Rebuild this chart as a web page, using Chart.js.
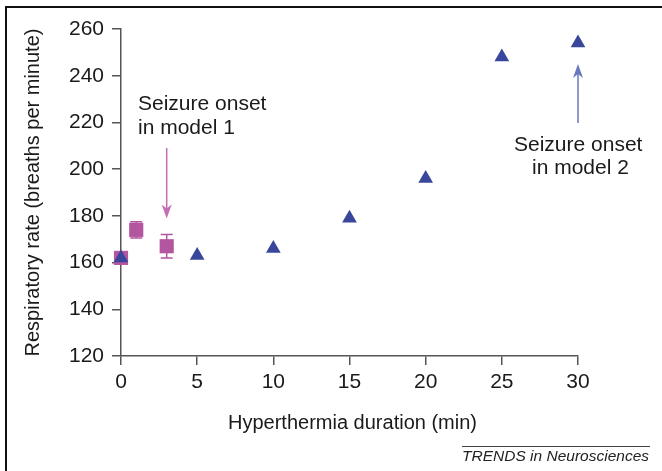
<!DOCTYPE html>
<html>
<head>
<meta charset="utf-8">
<script src="https://cdn.jsdelivr.net/npm/chart.js@4/dist/chart.umd.min.js"></script>
<style>
  html, body { margin: 0; padding: 0; background: #ffffff; }
  #wrap { width: 662px; height: 471px; position: relative; }
</style>
</head>
<body>
<div id="wrap"><canvas id="c" width="662" height="471"></canvas></div>
<script>
// ---- data ----
const model2X = [0, 5, 10, 15, 20, 25, 30];
const model2Rate = [162, 163, 166, 179, 196, 248, 254];
const model1X = [0, 1, 3];
const model1Rate = [162, 174, 167];
const model1Err = [0, 3.5, 5];
const xTicks = [0, 5, 10, 15, 20, 25, 30];
const yTicks = [120, 140, 160, 180, 200, 220, 240, 260];
const xTitle = 'Hyperthermia duration (min)';
const yTitle = 'Respiratory rate (breaths per minute)';
const note1 = ['Seizure onset', 'in model 1'];
const note2 = ['Seizure onset', 'in model 2'];
const note1X = 3, note2X = 30;
const credit = 'TRENDS in Neurosciences';

const FONT = '"Liberation Sans", Arial, Helvetica, sans-serif';
const BLUE = '#38479b';
const MAG = '#b3559f';
const AXIS = '#555555';

function pts(xs, ys) { return xs.map((x, i) => ({ x: x, y: ys[i] })); }

function arrow(ctx, x, y0, y1, color) {
  ctx.save();
  ctx.strokeStyle = color; ctx.fillStyle = color; ctx.lineWidth = 1.5;
  const dir = y1 > y0 ? 1 : -1;
  ctx.beginPath(); ctx.moveTo(x, y0); ctx.lineTo(x, y1 - dir * 8); ctx.stroke();
  ctx.beginPath();
  ctx.moveTo(x, y1);
  ctx.lineTo(x - 5, y1 - dir * 14);
  ctx.lineTo(x, y1 - dir * 10);
  ctx.lineTo(x + 5, y1 - dir * 14);
  ctx.closePath(); ctx.fill();
  ctx.restore();
}

const decor = {
  id: 'decor',
  beforeDraw(chart) {
    const ctx = chart.ctx;
    ctx.save();
    ctx.fillStyle = '#ffffff';
    ctx.fillRect(0, 0, chart.width, chart.height);
    ctx.strokeStyle = '#111111'; ctx.lineWidth = 2;
    ctx.beginPath(); ctx.moveTo(6, chart.height); ctx.lineTo(6, 7); ctx.lineTo(chart.width, 7); ctx.stroke();
    ctx.restore();
  },
  beforeDatasetsDraw(chart) {
    const ctx = chart.ctx, xs = chart.scales.x, ys = chart.scales.y;
    ctx.save();
    ctx.strokeStyle = MAG; ctx.lineWidth = 1.5;
    model1X.forEach((x, i) => {
      const e = model1Err[i];
      if (!e) return;
      const px = xs.getPixelForValue(x);
      const top = ys.getPixelForValue(model1Rate[i] + e);
      const bot = ys.getPixelForValue(model1Rate[i] - e);
      ctx.beginPath();
      ctx.moveTo(px, top); ctx.lineTo(px, bot);
      ctx.moveTo(px - 6, top); ctx.lineTo(px + 6, top);
      ctx.moveTo(px - 6, bot); ctx.lineTo(px + 6, bot);
      ctx.stroke();
    });
    ctx.restore();
  },
  afterDraw(chart) {
    const ctx = chart.ctx, xs = chart.scales.x, ys = chart.scales.y, a = chart.chartArea;
    ctx.save();
    ctx.fillStyle = '#1a1a1a';
    ctx.font = '20px ' + FONT;
    ctx.textAlign = 'center'; ctx.textBaseline = 'middle';
    // axis titles
    ctx.fillText(xTitle, (a.left + a.right) / 2 + 3, 423);
    ctx.save();
    ctx.translate(33, (a.top + a.bottom) / 2);
    ctx.rotate(-Math.PI / 2);
    ctx.fillText(yTitle, 0, 0);
    ctx.restore();
    // annotation 1
    ctx.font = '21px ' + FONT;
    const p1 = xs.getPixelForValue(note1X);
    ctx.textAlign = 'left';
    ctx.fillText(note1[0], 138, 104);
    ctx.fillText(note1[1], 138, 128);
    arrow(ctx, p1, 148, ys.getPixelForValue(model1Rate[2] + model1Err[2]) - 16, '#c36db4');
    // annotation 2
    const p2 = xs.getPixelForValue(note2X);
    ctx.fillText(note2[0], 514, 145);
    ctx.fillText(note2[1], 532, 168);
    arrow(ctx, p2, 123, ys.getPixelForValue(model2Rate[6]) + 21, '#6877c0');
    // credit
    ctx.font = 'italic 15.5px ' + FONT;
    ctx.textAlign = 'right'; ctx.textBaseline = 'alphabetic';
    ctx.fillStyle = '#222222';
    ctx.fillText(credit, 649, 461);
    ctx.strokeStyle = '#444444'; ctx.lineWidth = 1;
    ctx.beginPath(); ctx.moveTo(462, 446.5); ctx.lineTo(650, 446.5); ctx.stroke();
    ctx.restore();
  }
};

new Chart(document.getElementById('c'), {
  type: 'scatter',
  data: {
    datasets: [
      {
        label: 'Model 2',
        data: pts(model2X, model2Rate),
        pointStyle: 'triangle',
        pointRadius: 8.5,
        pointHoverRadius: 8.5,
        backgroundColor: BLUE,
        borderColor: BLUE,
        borderWidth: 0,
        clip: false
      },
      {
        label: 'Model 1',
        data: pts(model1X, model1Rate),
        pointStyle: 'rect',
        pointRadius: 10,
        pointHoverRadius: 10,
        backgroundColor: MAG,
        borderColor: MAG,
        borderWidth: 0,
        clip: false
      }
    ]
  },
  options: {
    responsive: false,
    animation: false,
    events: [],
    layout: { padding: { left: 0, right: 84, top: 29, bottom: 0 } },
    plugins: { legend: { display: false }, tooltip: { enabled: false } },
    scales: {
      x: {
        type: 'linear', min: 0, max: 30,
        afterBuildTicks(s) { s.ticks = xTicks.map(v => ({ value: v })); },
        afterFit(s) { s.height = 115; },
        border: { display: true, color: AXIS, width: 1.5 },
        grid: { display: true, drawOnChartArea: false, drawTicks: true, tickLength: 9, color: AXIS, lineWidth: 1.5 },
        ticks: { color: '#1a1a1a', font: { family: FONT, size: 21 }, padding: 5, maxRotation: 0 }
      },
      y: {
        type: 'linear', min: 120, max: 260,
        afterBuildTicks(s) { s.ticks = yTicks.map(v => ({ value: v })); },
        afterFit(s) { s.width = 121; },
        border: { display: true, color: AXIS, width: 1.5 },
        grid: { display: true, drawOnChartArea: false, drawTicks: true, tickLength: 9, color: AXIS, lineWidth: 1.5 },
        ticks: { color: '#1a1a1a', font: { family: FONT, size: 21 }, padding: 8 }
      }
    }
  },
  plugins: [decor]
});
</script>
</body>
</html>
